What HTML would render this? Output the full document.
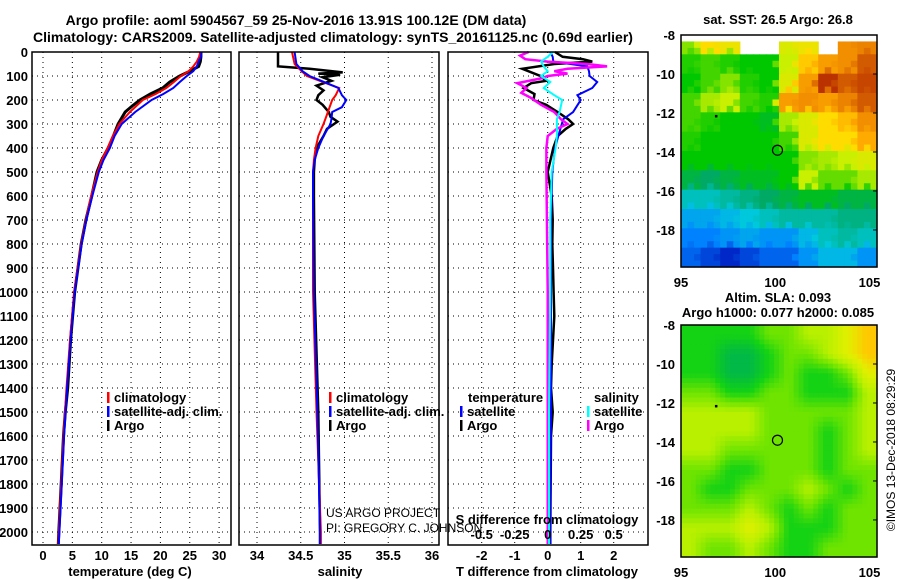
<!DOCTYPE html>
<html><head><meta charset="utf-8">
<style>
html,body{margin:0;padding:0;background:#fff;}
svg{display:block;font-family:"Liberation Sans",sans-serif;}
.b{font-weight:bold;font-size:13px;}
.t{font-weight:bold;font-size:14px;}
</style></head>
<body>
<svg id="fig" width="900" height="580" viewBox="0 0 900 580" xmlns="http://www.w3.org/2000/svg">
<g id="grids"></g>
<g id="marks"></g>
<g id="frames"></g>
<g id="labels"></g>
<text class="t" x="296" y="25" text-anchor="middle">Argo profile: aoml 5904567_59 25-Nov-2016 13.91S 100.12E (DM data)</text>
<text class="t" x="333" y="42" text-anchor="middle">Climatology: CARS2009. Satellite-adjusted climatology: synTS_20161125.nc (0.69d earlier)</text>
<text class="b" x="778" y="24" text-anchor="middle">sat. SST: 26.5 Argo: 26.8</text>
<text class="b" x="778" y="302" text-anchor="middle">Altim. SLA: 0.093</text>
<text class="b" x="778" y="317" text-anchor="middle">Argo h1000: 0.077 h2000: 0.085</text>
<text x="895" y="450" font-size="12" text-anchor="middle" transform="rotate(-90 895 450)">©IMOS 13-Dec-2018 08:29:29</text>
<text x="326" y="517" font-size="12">US ARGO PROJECT</text>
<text x="326" y="532" font-size="12">PI: GREGORY C. JOHNSON</text>
</svg>
<script>
// ---------- data ----------
const depths = [0,20,40,60,80,100,125,150,175,200,250,300,350,400,450,500,600,700,800,900,1000,1200,1400,1600,1800,2000,2050];
const tempClim = [26.8,26.6,26.2,25.6,24.8,23.5,22.3,21.0,19.2,17.0,14.8,13.0,11.9,11.0,10.0,9.3,8.2,7.3,6.5,5.9,5.3,4.6,4.0,3.5,3.1,2.7,2.6];
const tempSat  = [27.0,26.9,26.5,26.2,25.6,24.5,23.3,22.2,20.5,18.5,15.7,13.4,12.2,11.4,10.3,9.5,8.4,7.4,6.6,6.0,5.4,4.7,4.1,3.6,3.2,2.8,2.7];
const argoDepths = [0,20,40,60,80,100,125,150,175,200,225,250,300,350,400,450,500,600,700,800,1000,1200,1400,1500,1600,1800,2000,2050];
const tempArgo = [26.9,26.9,26.8,26.5,25.0,23.3,21.6,20.4,18.3,16.5,15.2,14.0,12.8,12.0,11.1,10.0,9.2,8.3,7.3,6.5,5.4,4.7,4.2,3.8,3.5,3.1,2.7,2.6];
const salDepths = [0,50,80,100,130,150,180,200,230,250,280,300,350,400,450,500,600,1000,1500,2000,2050];
const salClim = [34.40,34.43,34.51,34.57,34.79,34.94,34.90,34.86,34.83,34.81,34.78,34.76,34.70,34.67,34.65,34.64,34.64,34.64,34.68,34.73,34.73];
const salSat  = [34.43,34.45,34.52,34.60,34.80,34.93,34.97,35.02,34.97,34.86,34.85,34.84,34.76,34.70,34.66,34.64,34.64,34.65,34.69,34.72,34.72];
const salArgoDepths = [0,60,70,85,90,95,105,120,140,160,180,200,220,250,270,290,320,350,400,450,500,600,1000,1500,2000,2050];
const salArgo = [34.24,34.24,34.60,34.98,34.70,34.95,34.75,34.85,34.68,34.76,34.70,34.68,34.75,34.82,34.84,34.92,34.80,34.76,34.68,34.66,34.65,34.65,34.66,34.70,34.72,34.72];
const diffDepths = [0,20,40,60,80,100,125,150,180,200,250,280,350,400,500,700,1000,1500,2000,2050];
const tDiffSat = [0.08,0.15,0.17,1.2,1.25,1.27,1.5,1.35,0.9,1.0,0.77,0.47,0.32,0.22,0.14,0.10,0.10,0.10,0.08,0.08];
const tDiffArgoDepths = [0,20,30,40,50,70,100,120,130,150,175,200,220,250,280,300,320,350,400,500,600,700,800,900,1000,1100,1200,1300,1400,1500,1600,2000,2050];
const tDiffArgo = [0.22,0.45,1.07,1.35,0.2,-0.77,-0.22,-0.05,-0.5,-0.73,-0.4,-0.43,-0.05,0.3,0.62,0.77,0.55,0.3,0.17,0.0,0.12,0.15,0.14,0.16,0.18,0.2,0.16,0.12,0.1,0.15,0.1,0.08,0.08];
const sDiffArgoDepths = [0,15,30,40,50,60,70,80,90,100,110,130,150,170,190,220,250,280,300,320,350,400,500,1000,1500,2000,2050];
const sDiffArgo = [-0.145,-0.21,-0.17,0.0,0.3,0.45,0.15,0.05,0.15,0.0,-0.05,-0.23,-0.16,-0.2,-0.13,-0.05,0.05,0.1,0.15,0.07,0.0,-0.01,-0.01,0.0,0.0,0.0,0.0];
const sDiffSat = [0.04,0.0,-0.05,-0.03,0.0,-0.05,0.02,-0.03,0.05,0.11,0.09,0.07,0.07,0.06,0.03,0.02,0.02,0.01,0.01,0.01];
const depthTicks = [0,100,200,300,400,500,600,700,800,900,1000,1100,1200,1300,1400,1500,1600,1700,1800,1900,2000];
const tempTicks = [0,5,10,15,20,25,30];
const salTicks = [34,34.5,35,35.5,36];
const salTickLabels = ["34","34.5","35","35.5","36"];
const tDiffTicks = [-2,-1,0,1,2];
const sDiffTicks = [-0.5,-0.25,0,0.25,0.5];
const latTicks = [-8,-10,-12,-14,-16,-18];
const lonTicks = [95,100,105];
// SST grid (rows: lat -8..-20 by 1; cols: lon 95..105 by 1); null = no data
const sstGrid = [
 [27.0,27.5,27.4,null,null,27.3,27.4,null,28.0,28.1],
 [26.7,26.8,26.7,26.6,26.6,27.2,27.6,27.9,28.0,28.3],
 [26.6,26.8,27.0,26.7,26.6,27.3,27.9,28.5,28.3,28.4],
 [26.8,27.1,27.2,26.8,26.7,27.9,28.0,27.9,28.1,28.3],
 [26.8,26.7,26.6,26.6,26.5,27.1,27.3,27.5,27.7,28.0],
 [26.7,26.6,26.6,26.6,26.6,26.8,27.3,27.5,27.5,27.8],
 [26.6,26.6,26.6,26.6,26.6,26.6,27.0,27.1,27.2,27.3],
 [26.4,26.3,26.4,26.5,26.5,26.6,27.2,26.9,26.9,27.1],
 [26.0,26.0,26.1,26.2,26.3,26.4,26.5,26.5,26.4,26.4],
 [25.7,25.7,25.8,25.9,26.0,26.1,26.1,26.1,26.2,26.2],
 [25.5,25.5,25.6,25.7,25.6,25.6,25.8,26.0,26.1,26.0],
 [25.4,25.3,25.2,25.3,25.4,25.4,25.6,25.8,25.8,25.6]];
const slaGrid = [
 [1,1,1,1,2,2,3,3,4,5],
 [1,1,0,0,1,2,2,3,4,5],
 [1,1,0,0,1,2,1,1,2,4],
 [2,2,1,1,2,2,1,1,1,3],
 [3,3,3,3,2,2,2,2,2,3],
 [3,3,3,3,2,2,2,1,2,3],
 [3,3,2,2,2,2,2,1,2,3],
 [2,2,1,1,2,2,2,1,2,2],
 [2,1,1,2,2,2,3,2,1,2],
 [2,2,2,3,2,1,2,1,2,2],
 [3,3,3,4,3,1,1,1,2,2],
 [3,2,2,3,2,1,1,2,2,2]];
const argoLon = 100.12, argoLat = -13.91;

// ---------- helpers ----------
const NS="http://www.w3.org/2000/svg";
const G=id=>document.getElementById(id);
function mk(tag,attrs,parent){const e=document.createElementNS(NS,tag);for(const k in attrs)e.setAttribute(k,attrs[k]);parent.appendChild(e);return e;}
const TOP=52, BOT=545;
const yD = d => TOP + d*0.24;
const xT = v => 43 + v*5.87;
const xS = v => 257 + (v-34)*87.5;
const xTD = v => 547.7 + v*33;
const xSD = v => 547.7 + v*132;
const panels=[[32,231],[239,439],[448,648]];

// grids
const grids=G('grids');
panels.forEach((p,i)=>{
  depthTicks.forEach(d=>{ if(d===0) return;
    const l=mk('line',{x1:p[0],x2:p[1],y1:yD(d),y2:yD(d),stroke:'#000','stroke-dasharray':'1,4','stroke-width':1},grids);
    
    
  });
});
function vgrid(ticks,fx){ticks.forEach(v=>{
  const l=mk('line',{x1:fx(v),x2:fx(v),y1:TOP,y2:BOT,stroke:'#000','stroke-dasharray':'1,4','stroke-width':1},grids);
  
  
});}
vgrid(tempTicks,xT); vgrid(salTicks,xS); vgrid(tDiffTicks,xTD);

// maps
const marks=G('marks');
const MAP1={x0:681,x1:877,y0:35,y1:267}, MAP2={x0:681,x1:877,y0:325,y1:557};
function lonX(m,lon){return m.x0+(lon-95)*(m.x1-m.x0)/10.4;}
function latY(m,lat){return m.y0+(-8-lat)*(m.y1-m.y0)/11.9;}
function rampC(stops,v){
  if(v<=stops[0][0]) return 'rgb('+stops[0][1].join(',')+')';
  for(let i=1;i<stops.length;i++){ if(v<=stops[i][0]){const a=stops[i-1],b=stops[i];const t=(v-a[0])/(b[0]-a[0]);
    return 'rgb('+a[1].map((c,k)=>Math.round(c+(b[1][k]-c)*t)).join(',')+')';}}
  return 'rgb('+stops[stops.length-1][1].join(',')+')';
}
const sstStops=[[25.2,[0,40,200]],[25.5,[0,130,255]],[25.9,[0,200,220]],[26.3,[0,170,100]],[26.6,[0,200,0]],[26.9,[100,220,0]],[27.2,[200,240,0]],[27.5,[255,220,0]],[27.8,[255,170,0]],[28.1,[235,130,0]],[28.5,[185,50,0]]];
const slaStops=[[0,[0,185,70]],[1,[20,210,20]],[2,[110,228,0]],[3,[185,240,0]],[4,[225,240,0]],[5,[255,200,0]]];
function drawMap(m,grid,stops,smooth,name){
  const cw=(m.x1-m.x0)/10, ch=(m.y1-m.y0)/12;
  const sub=smooth?4:3;
  for(let r=0;r<12;r++)for(let c=0;c<10;c++){
    for(let a=0;a<sub;a++)for(let b=0;b<sub;b++){
      const fr=r+(a+0.5)/sub-0.5, fc=c+(b+0.5)/sub-0.5;
      let v;
      if(smooth){
        const r0=Math.max(0,Math.min(11,Math.floor(fr))), c0=Math.max(0,Math.min(9,Math.floor(fc)));
        const r1=Math.min(11,r0+1), c1=Math.min(9,c0+1);
        const tr=Math.max(0,Math.min(1,fr-r0)), tc=Math.max(0,Math.min(1,fc-c0));
        v=(grid[r0][c0]*(1-tc)+grid[r0][c1]*tc)*(1-tr)+(grid[r1][c0]*(1-tc)+grid[r1][c1]*tc)*tr;
      } else {
        v=grid[r][c]; if(v===null) continue;
        if(r===0 && a===0) continue;
        const n=grid[Math.min(11,r+(a===2?1:0))][Math.min(9,c+(b===2?1:0))];
        if(n!==null && (a+b)%2===1) v=(v+n)/2;
      }
      const cell=mk('rect',{x:(m.x0+(c+b/sub)*cw).toFixed(2),y:(m.y0+(r+a/sub)*ch).toFixed(2),width:(cw/sub+0.6).toFixed(2),height:(ch/sub+0.6).toFixed(2),fill:rampC(stops,v)},marks);
      
      
    }
  }
  const o=mk('circle',{cx:lonX(m,argoLon),cy:latY(m,argoLat),r:5,fill:'none',stroke:'#000','stroke-width':1.2},marks);
  
  
  const dt=mk('rect',{x:lonX(m,96.8),y:latY(m,-12.1),width:2.5,height:2.5,fill:'#000'},marks);
  
  
}
drawMap(MAP1,sstGrid,sstStops,false,'sst-map');
drawMap(MAP2,slaGrid,slaStops,true,'sla-map');

// profile lines
function line(ds,vs,fx,col,w,name){
  const pts=ds.map((d,i)=>fx(vs[i]).toFixed(1)+','+yD(Math.min(d,2054)).toFixed(1)).join(' ');
  const p=mk('polyline',{points:pts,fill:'none',stroke:col,'stroke-width':w,'stroke-linejoin':'miter'},marks);
  
  
}
line(argoDepths,tempArgo,xT,'#000',3,'temp-argo-line');
line(depths,tempClim,xT,'#f00',2,'temp-climatology-line');
line(depths,tempSat,xT,'#00f',2,'temp-satellite-line');
line(salArgoDepths,salArgo,xS,'#000',2.5,'sal-argo-line');
line(salDepths,salClim,xS,'#f00',2,'sal-climatology-line');
line(salDepths,salSat,xS,'#00f',2,'sal-satellite-line');
line(tDiffArgoDepths,tDiffArgo,xTD,'#000',2.5,'tdiff-argo-line');
line(diffDepths,tDiffSat,xTD,'#00f',2,'tdiff-satellite-line');
line(sDiffArgoDepths,sDiffArgo,xSD,'#f0f',2.5,'sdiff-argo-line');
line(diffDepths,sDiffSat,xSD,'#0ff',2,'sdiff-satellite-line');

// frames
const frames=G('frames');
panels.forEach((p,i)=>{
  const r=mk('rect',{x:p[0],y:TOP,width:p[1]-p[0],height:BOT-TOP,fill:'none',stroke:'#000','stroke-width':1.5},frames);
  
  
});
[MAP1,MAP2].forEach((m,i)=>{
  const r=mk('rect',{x:m.x0,y:m.y0,width:m.x1-m.x0,height:m.y1-m.y0,fill:'none',stroke:'#000','stroke-width':1.5},frames);
  
  
});

// labels
const L=G('labels');
function txt(x,y,s,anchor,name){
  const t=mk('text',{x:x,y:y,'text-anchor':anchor||'middle','font-weight':'bold','font-size':13},L);
  t.textContent=s;
  
  
  return t;
}
depthTicks.forEach(d=>{txt(28,yD(d)+5,String(d),'end','depth-tick-label');});
tempTicks.forEach(v=>txt(xT(v),560,String(v),'middle','temp-tick-label'));
salTicks.forEach((v,i)=>txt(xS(v),560,salTickLabels[i],'middle','sal-tick-label'));
tDiffTicks.forEach(v=>txt(xTD(v),560,String(v),'middle','tdiff-tick-label'));
sDiffTicks.forEach(v=>txt(xSD(v),539,String(v),'middle','sdiff-tick-label'));
txt(130,576,'temperature (deg C)','middle','temp-axis-title');
txt(340,576,'salinity','middle','sal-axis-title');
txt(547,576,'T difference from climatology','middle','tdiff-axis-title');
txt(547,524,'S difference from climatology','middle','sdiff-axis-title');
latTicks.forEach(v=>{
  txt(675,latY(MAP1,v)+5,String(v),'end','sst-lat-label');
  txt(675,latY(MAP2,v)+5,String(v),'end','sla-lat-label');
  [MAP1,MAP2].forEach(m=>{
    const tk=mk('line',{x1:m.x1-4,x2:m.x1,y1:latY(m,v),y2:latY(m,v),stroke:'#000'},L);
    
    
  });
});
lonTicks.forEach(v=>{
  txt(lonX(MAP1,v),287,String(v),'middle','sst-lon-label');
  txt(lonX(MAP2,v),577,String(v),'middle','sla-lon-label');
});
// legends
function leg(x,y,col,s,name){
  const m=mk('rect',{x:x,y:y-10,width:2.5,height:11,fill:col},L);
  
  
  txt(x+7,y,s,'start',name);
}
leg(107,402,'#f00','climatology','legend-temp-climatology');
leg(107,416,'#00f','satellite-adj. clim.','legend-temp-satellite');
leg(107,430,'#000','Argo','legend-temp-argo');
leg(329,402,'#f00','climatology','legend-sal-climatology');
leg(329,416,'#00f','satellite-adj. clim.','legend-sal-satellite');
leg(329,430,'#000','Argo','legend-sal-argo');
txt(468,402,'temperature','start','legend-temp-header');
leg(460,416,'#00f','satellite','legend-tdiff-satellite');
leg(460,430,'#000','Argo','legend-tdiff-argo');
txt(594,402,'salinity','start','legend-sal-header');
leg(587,416,'#0ff','satellite','legend-sdiff-satellite');
leg(587,430,'#f0f','Argo','legend-sdiff-argo');
</script>
</body></html>
